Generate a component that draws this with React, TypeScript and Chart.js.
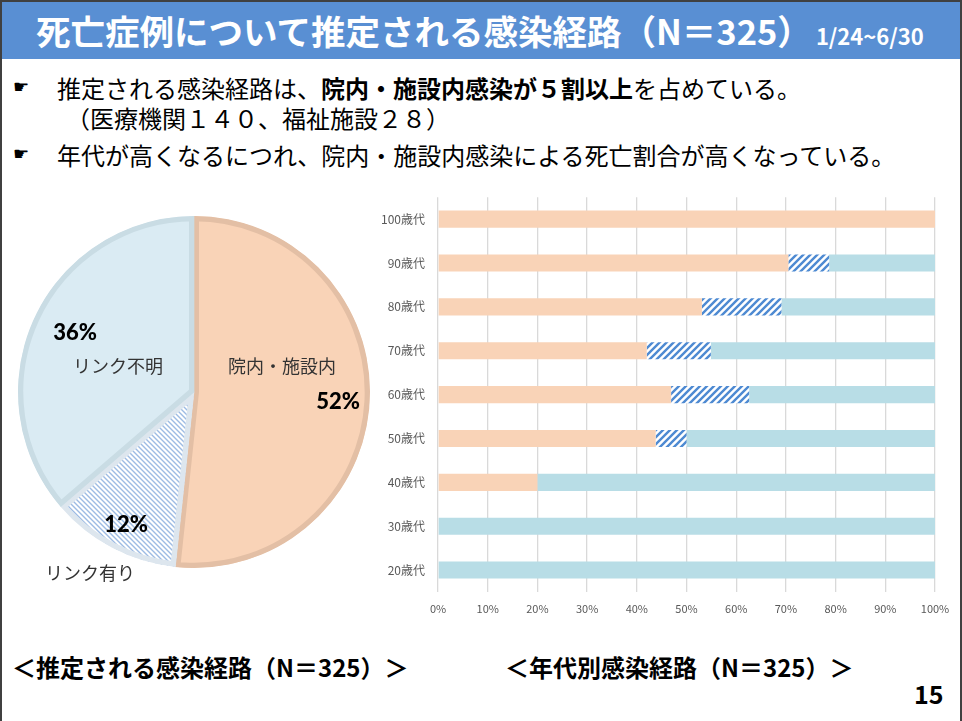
import React, { useEffect, useRef } from 'react';
import { Chart, registerables } from 'chart.js';

Chart.register(...registerables);

// ---- data ----
const routeLabels = ['院内・施設内', 'リンク有り', 'リンク不明'];
const routeCounts = [168, 39, 118];

const ageLabels = ['100歳代', '90歳代', '80歳代', '70歳代', '60歳代', '50歳代', '40歳代', '30歳代', '20歳代'];
const inFacility = [100, 70.5, 53.1, 42.0, 46.9, 43.8, 20, 0, 0];
const linked = [0, 8.2, 16.0, 12.9, 15.7, 6.2, 0, 0, 0];
const unlinked = [0, 21.3, 30.9, 45.1, 37.4, 50.0, 80, 100, 100];

const xMin = 0;
const xMax = 100;
const xStep = 10;

// ---- styles ----
const ORANGE = '#F9D3B7';
const ORANGE_BORDER = '#E3BFA5';
const LBLUE_PIE = '#DAEBF3';
const LBLUE_PIE_BORDER = '#C9DCE4';
const LBLUE_BAR = '#B8DDE6';
const HATCH_BAR = '#4E8AD2';
const HATCH_PIE = '#9DBBE3';
const JP = '"Noto Sans CJK JP", "Noto Sans", sans-serif';

// label offsets from pie centre (px) for percentage and name
const pieLabelOffsets = [
  { pct: [144, 10], name: [88, -26] },
  { pct: [-68, 133], name: [-104, 181] },
  { pct: [-119, -59], name: [-76, -26] },
];

function makeHatch(size: number, color: string, lw: number, up: boolean) {
  const c = document.createElement('canvas');
  c.width = size;
  c.height = size;
  const ctx = c.getContext('2d')!;
  ctx.fillStyle = '#ffffff';
  ctx.fillRect(0, 0, size, size);
  ctx.strokeStyle = color;
  ctx.lineWidth = lw;
  ctx.beginPath();
  if (up) {
    ctx.moveTo(-size, 2 * size);
    ctx.lineTo(2 * size, -size);
    ctx.moveTo(-size, size);
    ctx.lineTo(size, -size);
    ctx.moveTo(0, 2 * size);
    ctx.lineTo(2 * size, 0);
  } else {
    ctx.moveTo(-size, -size);
    ctx.lineTo(2 * size, 2 * size);
    ctx.moveTo(-size, 0);
    ctx.lineTo(size, 2 * size);
    ctx.moveTo(0, -size);
    ctx.lineTo(2 * size, size);
  }
  ctx.stroke();
  return ctx.createPattern(c, 'repeat')!;
}

const pieLabelPlugin = {
  id: 'pieLabels',
  afterDatasetsDraw(chart: any) {
    const meta = chart.getDatasetMeta(0);
    const data = chart.data.datasets[0].data as number[];
    const total = data.reduce((a, b) => a + b, 0);
    const ctx = chart.ctx;
    ctx.save();
    ctx.textAlign = 'center';
    ctx.textBaseline = 'middle';
    meta.data.forEach((arc: any, i: number) => {
      const off = pieLabelOffsets[i];
      const cx = arc.x;
      const cy = arc.y;
      ctx.fillStyle = '#000000';
      ctx.font = '900 22px Lato, "Open Sans", sans-serif';
      ctx.fillText(Math.round((data[i] / total) * 100) + '%', cx + off.pct[0], cy + off.pct[1]);
      ctx.fillStyle = '#333333';
      ctx.font = '18px ' + JP;
      ctx.fillText(chart.data.labels[i], cx + off.name[0], cy + off.name[1]);
    });
    ctx.restore();
  },
};

function PieChart() {
  const ref = useRef<HTMLCanvasElement>(null);
  useEffect(() => {
    const pat = makeHatch(5, HATCH_PIE, 1.4, false);
    const chart = new Chart(ref.current!, {
      type: 'pie',
      data: {
        labels: routeLabels,
        datasets: [
          {
            data: routeCounts,
            backgroundColor: [ORANGE, pat as any, LBLUE_PIE],
            borderColor: [ORANGE_BORDER, '#DDE6EE', LBLUE_PIE_BORDER],
            borderWidth: 5,
            borderAlign: 'inner',
          } as any,
        ],
      },
      options: {
        responsive: false,
        animation: false,
        devicePixelRatio: 1,
        layout: { padding: 14 },
        plugins: { legend: { display: false }, tooltip: { enabled: false } },
        events: [],
      },
      plugins: [pieLabelPlugin],
    });
    return () => chart.destroy();
  }, []);
  return (
    <canvas
      ref={ref}
      width={380}
      height={380}
      style={{ position: 'absolute', left: 4, top: 202, width: 380, height: 380 }}
    />
  );
}

function BarChart() {
  const ref = useRef<HTMLCanvasElement>(null);
  useEffect(() => {
    const pat = makeHatch(7, HATCH_BAR, 2.4, true);
    const common = { barPercentage: 0.39, categoryPercentage: 1, borderWidth: 0 };
    const chart = new Chart(ref.current!, {
      type: 'bar',
      data: {
        labels: ageLabels,
        datasets: [
          { label: routeLabels[0], data: inFacility, backgroundColor: ORANGE, ...common },
          { label: routeLabels[1], data: linked, backgroundColor: pat as any, ...common },
          { label: routeLabels[2], data: unlinked, backgroundColor: LBLUE_BAR, ...common },
        ],
      },
      options: {
        indexAxis: 'y',
        responsive: false,
        animation: false,
        devicePixelRatio: 1,
        layout: { padding: { left: 0, right: 25, top: 6, bottom: 0 } },
        plugins: { legend: { display: false }, tooltip: { enabled: false } },
        events: [],
        scales: {
          x: {
            stacked: true,
            min: xMin,
            max: xMax,
            ticks: {
              stepSize: xStep,
              callback: (v: any) => v + '%',
              color: '#595959',
              font: { family: JP, size: 11 },
              padding: 10,
              maxRotation: 0,
            },
            grid: { color: '#D9D9D9', lineWidth: 1.3, drawTicks: false },
            border: { display: false },
            afterFit: (s: any) => {
              s.height = 38;
            },
          },
          y: {
            stacked: true,
            ticks: {
              color: '#595959',
              font: { family: JP, size: 12 },
              padding: 13,
            },
            grid: { display: false, drawTicks: false },
            border: { display: false },
            afterFit: (s: any) => {
              s.width = 68;
            },
          },
        },
      },
    });
    return () => chart.destroy();
  }, []);
  return (
    <canvas
      ref={ref}
      width={590}
      height={453}
      style={{ position: 'absolute', left: 370, top: 177, width: 590, height: 453 }}
    />
  );
}

export default function App() {
  useEffect(() => {
    document.body.style.margin = '0';
  }, []);
  const line = (top: number, left: number, content: React.ReactNode, size = 24) => (
    <div
      style={{
        position: 'absolute',
        top,
        left,
        fontSize: size,
        lineHeight: '30px',
        height: 30,
        whiteSpace: 'nowrap',
        color: '#000',
      }}
    >
      {content}
    </div>
  );
  return (
    <div
      style={{
        position: 'absolute',
        left: 0,
        top: 0,
        width: 962,
        height: 721,
        background: '#ffffff',
        overflow: 'hidden',
        fontFamily: JP,
      }}
    >
      {/* frame */}
      <div style={{ position: 'absolute', left: 0, top: 0, width: 962, height: 2, background: '#404040' }} />
      <div style={{ position: 'absolute', left: 0, top: 0, width: 2, height: 721, background: '#404040' }} />
      <div style={{ position: 'absolute', left: 960, top: 0, width: 2, height: 721, background: '#404040' }} />
      {/* title bar */}
      <div
        style={{
          position: 'absolute',
          left: 2,
          top: 2,
          width: 958,
          height: 57,
          background: '#598FD3',
        }}
      />
      <div
        style={{
          position: 'absolute',
          left: 36,
          top: 8,
          height: 44,
          lineHeight: '44px',
          color: '#fff',
          fontWeight: 700,
          whiteSpace: 'nowrap',
        }}
      >
        <span style={{ fontSize: 34.5 }}>死亡症例について推定される感染経路（N＝325）</span>
        <span style={{ fontSize: 22, marginLeft: 4 }}>1/24~6/30</span>
      </div>
      {/* bullets */}
      <div style={{ position: 'absolute', left: 13, top: 76, fontSize: 18, fontFamily: '"DejaVu Sans"' }}>☛</div>
      {line(
        73,
        57,
        <>
          推定される感染経路は、<b>院内・施設内感染が５割以上</b>を占めている。
        </>
      )}
      {line(103, 66, '（医療機関１４０、福祉施設２８）')}
      <div style={{ position: 'absolute', left: 13, top: 143, fontSize: 18, fontFamily: '"DejaVu Sans"' }}>☛</div>
      {line(140, 57, '年代が高くなるにつれ、院内・施設内感染による死亡割合が高くなっている。')}

      <PieChart />
      <BarChart />

      {/* captions */}
      <div
        style={{ position: 'absolute', left: 12, top: 652, fontSize: 24, fontWeight: 700, lineHeight: '30px', whiteSpace: 'nowrap' }}
      >
        ＜推定される感染経路（N＝325）＞
      </div>
      <div
        style={{ position: 'absolute', left: 505, top: 652, fontSize: 24, fontWeight: 700, lineHeight: '30px', whiteSpace: 'nowrap' }}
      >
        ＜年代別感染経路（N＝325）＞
      </div>
      <div
        style={{ position: 'absolute', left: 914, top: 678, fontSize: 25, fontWeight: 700, lineHeight: '30px' }}
      >
        15
      </div>
    </div>
  );
}
